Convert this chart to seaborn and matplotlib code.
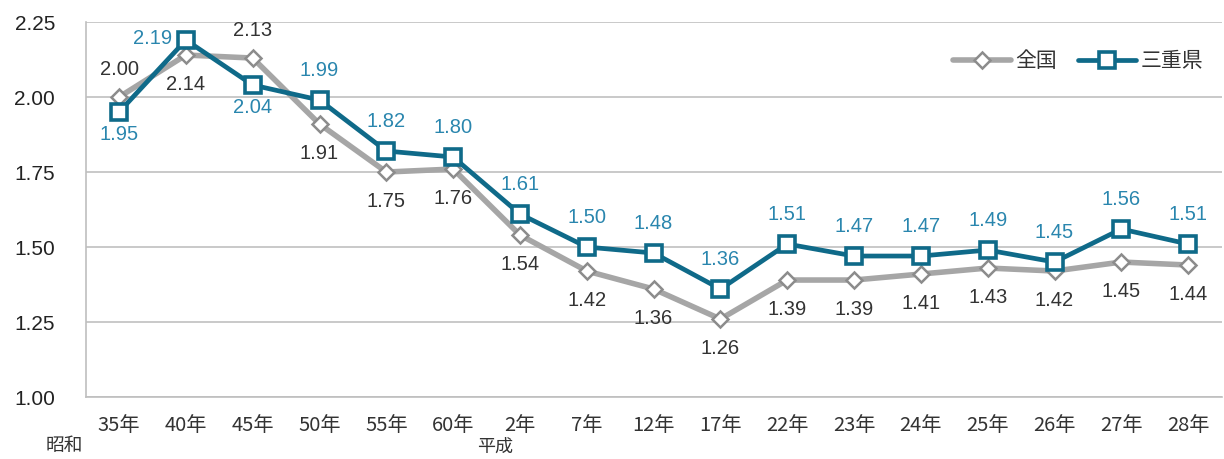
import numpy as np
import pandas as pd
import matplotlib
matplotlib.use("Agg")
import matplotlib.pyplot as plt
import seaborn as sns

# データ
years = ["35年", "40年", "45年", "50年", "55年", "60年", "2年", "7年", "12年",
         "17年", "22年", "23年", "24年", "25年", "26年", "27年", "28年"]
zenkoku = [2.00, 2.14, 2.13, 1.91, 1.75, 1.76, 1.54, 1.42, 1.36,
           1.26, 1.39, 1.39, 1.41, 1.43, 1.42, 1.45, 1.44]
mie = [1.95, 2.19, 2.04, 1.99, 1.82, 1.80, 1.61, 1.50, 1.48,
       1.36, 1.51, 1.47, 1.47, 1.49, 1.45, 1.56, 1.51]

# ラベル位置 (上=1, 下=-1, 左=0)
zen_pos = [1, -1, 1] + [-1] * 14
mie_pos = [-1, 0, -1] + [1] * 14

sns.set_theme(style="white")
plt.rcParams['font.family'] = ['Liberation Sans', 'Noto Sans CJK JP', 'DejaVu Sans']

df = pd.DataFrame({
    "idx": list(range(len(years))) * 2,
    "val": zenkoku + mie,
    "地域": ["全国"] * len(years) + ["三重県"] * len(years),
})

GRAY = "#A6A6A6"
GRAY_EDGE = "#8C8C8C"
TEAL = "#0F6A89"
TEAL_TXT = "#2A86AE"

fig = plt.figure(figsize=(12.24, 4.59), dpi=100)
ax = fig.add_axes([0.0700, 0.135, 0.928, 0.817])

sns.lineplot(data=df[df["地域"] == "全国"], x="idx", y="val", ax=ax, color=GRAY,
             linewidth=4.0, marker="D", markersize=8.5, markerfacecolor="white",
             markeredgecolor=GRAY_EDGE, markeredgewidth=1.8, label="全国", zorder=3)
sns.lineplot(data=df[df["地域"] == "三重県"], x="idx", y="val", ax=ax, color=TEAL,
             linewidth=3.4, marker="s", markersize=11, markerfacecolor="white",
             markeredgecolor=TEAL, markeredgewidth=2.6, label="三重県", zorder=4)

for i, (v, p) in enumerate(zip(zenkoku, zen_pos)):
    dy = 20 if p > 0 else -21
    ax.annotate(f"{v:.2f}", (i, v), xytext=(0, dy), textcoords="offset points",
                ha="center", va="center", fontsize=14.5, color="#333333")
for i, (v, p) in enumerate(zip(mie, mie_pos)):
    if p == 0:
        xy = (-24, 1)
    else:
        xy = (0, 21 if p > 0 else -16)
    ax.annotate(f"{v:.2f}", (i, v), xytext=xy, textcoords="offset points",
                ha="center", va="center", fontsize=14.5, color=TEAL_TXT)

ax.set_xlim(-0.5, len(years) - 0.5)
ax.set_ylim(1.0, 2.25)
ax.set_yticks([1.00, 1.25, 1.50, 1.75, 2.00, 2.25])
ax.set_yticklabels(["1.00", "1.25", "1.50", "1.75", "2.00", "2.25"], fontsize=15, color="#222222")
ax.set_xticks(range(len(years)))
ax.set_xticklabels(years, fontsize=14.5, color="#333333", family=['Noto Sans CJK JP'])
ax.set_xticks(np.arange(-0.5, len(years), 1), minor=True)
ax.tick_params(axis="x", which="major", length=0, pad=13)
ax.tick_params(axis="x", which="minor", length=5, color="#BFBFBF", width=1.2, direction="out")
ax.tick_params(axis="y", length=5, color="#BFBFBF", width=1.2, pad=17, direction="out")
ax.set_xlabel("")
ax.set_ylabel("")

ax.yaxis.grid(True, color="#C0C0C0", linewidth=1.2)
ax.set_axisbelow(True)
for s in ["top", "right"]:
    ax.spines[s].set_visible(False)
for s in ["left", "bottom"]:
    ax.spines[s].set_color("#BFBFBF")
    ax.spines[s].set_linewidth(1.2)

fig.text(46 / 1224, 1 - 445 / 459, "昭和", fontsize=13.5, color="#333333",
         family=['Noto Sans CJK JP'], va="center")
fig.text(477 / 1224, 1 - 447 / 459, "平成", fontsize=13, color="#333333",
         family=['Noto Sans CJK JP'], va="center")

leg = ax.legend(loc="upper right", bbox_to_anchor=(1.0, 0.975), frameon=False, ncol=2,
                prop={'family': 'Noto Sans CJK JP', 'size': 15}, handlelength=2.8,
                columnspacing=1.0, handletextpad=0.2)
for t in leg.get_texts():
    t.set_color("#333333")

fig.savefig("out.png", dpi=100)
